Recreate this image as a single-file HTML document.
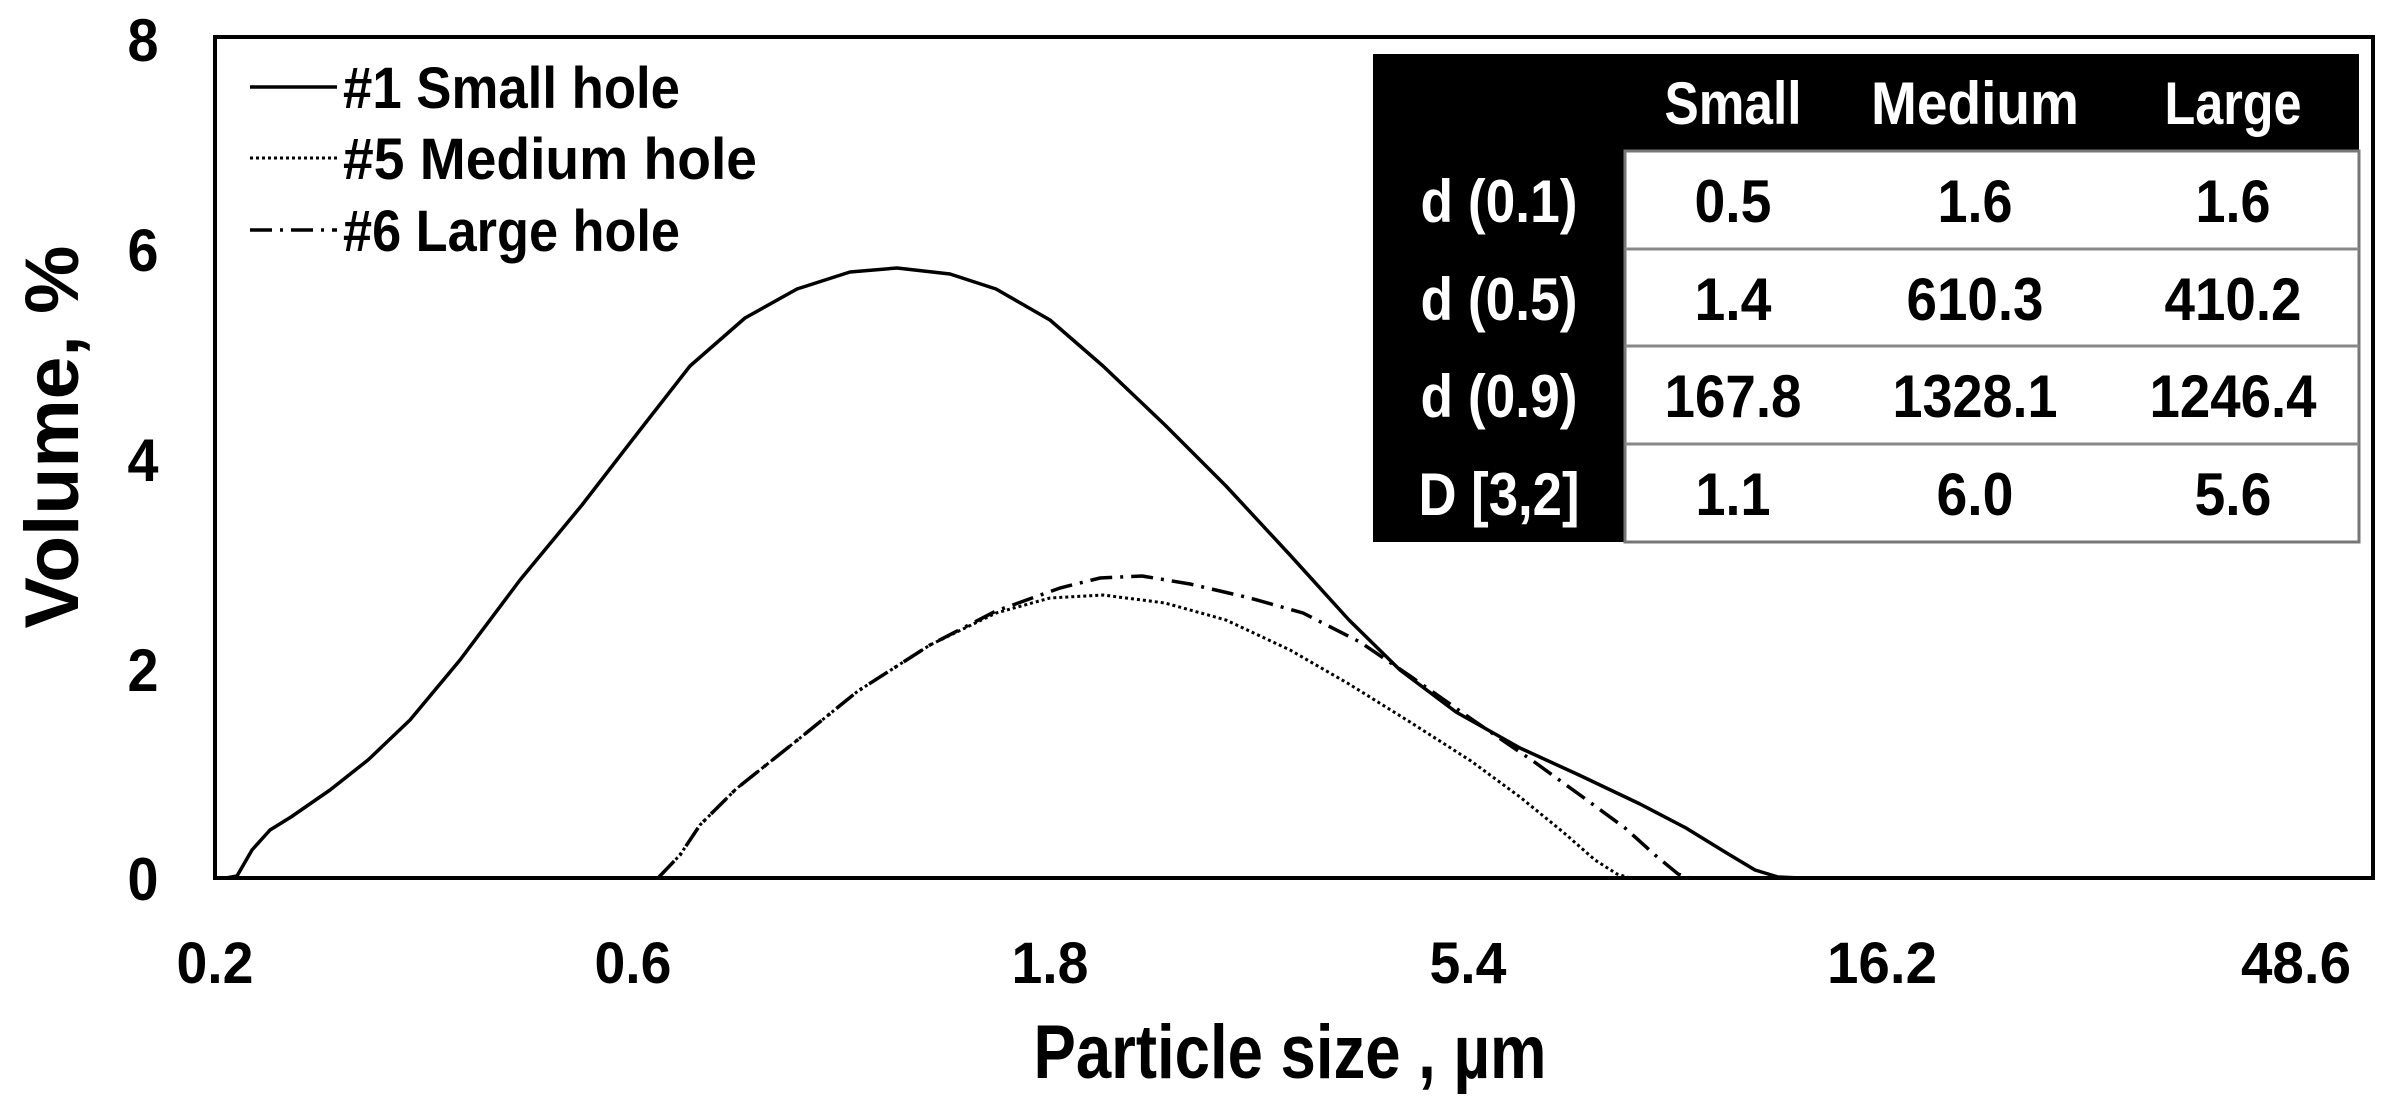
<!DOCTYPE html>
<html><head><meta charset="utf-8"><style>
html,body{margin:0;padding:0;background:#fff;}
svg{display:block;}
text{font-family:"Liberation Sans",sans-serif;font-weight:bold;}
</style></head><body>
<svg width="2403" height="1105" viewBox="0 0 2403 1105" xmlns="http://www.w3.org/2000/svg">
<rect width="2403" height="1105" fill="#fff"/>
<rect x="215" y="37" width="2158" height="841" fill="none" stroke="#000" stroke-width="4"/>
<g font-size="60" text-anchor="middle" lengthAdjust="spacingAndGlyphs">
<text x="143" y="61" textLength="31" lengthAdjust="spacingAndGlyphs">8</text>
<text x="143" y="271" textLength="31" lengthAdjust="spacingAndGlyphs">6</text>
<text x="143" y="481" textLength="31" lengthAdjust="spacingAndGlyphs">4</text>
<text x="143" y="691" textLength="31" lengthAdjust="spacingAndGlyphs">2</text>
<text x="143" y="900" textLength="31" lengthAdjust="spacingAndGlyphs">0</text>
</g>
<g font-size="58" text-anchor="middle">
<text x="215" y="983" textLength="77" lengthAdjust="spacingAndGlyphs">0.2</text>
<text x="633" y="983" textLength="77" lengthAdjust="spacingAndGlyphs">0.6</text>
<text x="1050" y="983" textLength="77" lengthAdjust="spacingAndGlyphs">1.8</text>
<text x="1468" y="983" textLength="77" lengthAdjust="spacingAndGlyphs">5.4</text>
<text x="1882" y="983" textLength="110" lengthAdjust="spacingAndGlyphs">16.2</text>
<text x="2296" y="983" textLength="110" lengthAdjust="spacingAndGlyphs">48.6</text>
</g>
<text x="1290" y="1078" font-size="76" text-anchor="middle" textLength="513" lengthAdjust="spacingAndGlyphs">Particle size , µm</text>
<text transform="translate(78,437) rotate(-90)" font-size="76" text-anchor="middle" textLength="383" lengthAdjust="spacingAndGlyphs">Volume, %</text>
<polyline fill="none" stroke="#000" stroke-width="3.5" stroke-linejoin="round" points="226,878 237,876 252,850 270,830 291,817 330,790 368,760 410,720 460,660 520,580 582,505 640,430 690,366 745,318 797,289 850,272 897,268 950,274 996,289 1050,320 1103,366 1165,425 1226,486 1290,555 1349,620 1400,670 1456,712 1520,748 1579,775 1640,804 1686,828 1725,852 1755,870 1778,877 1800,878"/>
<polyline fill="none" stroke="#000" stroke-width="3" stroke-dasharray="3,3" points="659,877 680,855 700,825 736,789 800,738 858,691 930,645 996,613 1050,598 1103,595 1165,603 1226,620 1290,650 1349,684 1410,722 1471,761 1520,797 1563,832 1595,860 1617,874 1630,878"/>
<polyline fill="none" stroke="#000" stroke-width="3.5" stroke-dasharray="22,8,3,8" points="659,877 680,855 700,825 736,789 800,738 858,691 930,645 996,611 1060,588 1100,578 1142,576 1190,584 1250,598 1303,613 1360,642 1410,676 1470,718 1533,761 1580,795 1625,828 1655,855 1678,874 1690,878"/>
<line x1="250" y1="87" x2="337" y2="87" stroke="#000" stroke-width="3.5"/>
<line x1="250" y1="158" x2="337" y2="158" stroke="#000" stroke-width="3" stroke-dasharray="3,3"/>
<line x1="250" y1="230" x2="337" y2="230" stroke="#000" stroke-width="3.5" stroke-dasharray="22,8,3,8"/>
<g font-size="58">
<text x="343" y="108" textLength="337" lengthAdjust="spacingAndGlyphs">#1 Small hole</text>
<text x="343" y="179" textLength="414" lengthAdjust="spacingAndGlyphs">#5 Medium hole</text>
<text x="343" y="251" textLength="337" lengthAdjust="spacingAndGlyphs">#6 Large hole</text>
</g>
<rect x="1373" y="54" width="986" height="97" fill="#000"/>
<rect x="1373" y="151" width="252" height="391" fill="#000"/>
<rect x="1625" y="151" width="734" height="391" fill="#fff" stroke="#777" stroke-width="3"/>
<g stroke="#888" stroke-width="3">
<line x1="1625" y1="249" x2="2359" y2="249"/>
<line x1="1625" y1="346" x2="2359" y2="346"/>
<line x1="1625" y1="444" x2="2359" y2="444"/>
</g>
<g font-size="60" text-anchor="middle">
<g fill="#fff">
<text x="1733" y="124" textLength="137" lengthAdjust="spacingAndGlyphs">Small</text>
<text x="1975" y="124" textLength="208" lengthAdjust="spacingAndGlyphs">Medium</text>
<text x="2233" y="124" textLength="137" lengthAdjust="spacingAndGlyphs">Large</text>
<text x="1499" y="222" textLength="157" lengthAdjust="spacingAndGlyphs">d (0.1)</text>
<text x="1499" y="320" textLength="157" lengthAdjust="spacingAndGlyphs">d (0.5)</text>
<text x="1499" y="417" textLength="157" lengthAdjust="spacingAndGlyphs">d (0.9)</text>
<text x="1499" y="515" textLength="161" lengthAdjust="spacingAndGlyphs">D [3,2]</text>
</g>
<text x="1733" y="222" textLength="77" lengthAdjust="spacingAndGlyphs">0.5</text>
<text x="1975" y="222" textLength="75" lengthAdjust="spacingAndGlyphs">1.6</text>
<text x="2233" y="222" textLength="75" lengthAdjust="spacingAndGlyphs">1.6</text>
<text x="1733" y="320" textLength="77" lengthAdjust="spacingAndGlyphs">1.4</text>
<text x="1975" y="320" textLength="137" lengthAdjust="spacingAndGlyphs">610.3</text>
<text x="2233" y="320" textLength="137" lengthAdjust="spacingAndGlyphs">410.2</text>
<text x="1733" y="417" textLength="137" lengthAdjust="spacingAndGlyphs">167.8</text>
<text x="1975" y="417" textLength="165" lengthAdjust="spacingAndGlyphs">1328.1</text>
<text x="2233" y="417" textLength="167" lengthAdjust="spacingAndGlyphs">1246.4</text>
<text x="1733" y="515" textLength="75" lengthAdjust="spacingAndGlyphs">1.1</text>
<text x="1975" y="515" textLength="77" lengthAdjust="spacingAndGlyphs">6.0</text>
<text x="2233" y="515" textLength="77" lengthAdjust="spacingAndGlyphs">5.6</text>
</g>
</svg>
</body></html>
